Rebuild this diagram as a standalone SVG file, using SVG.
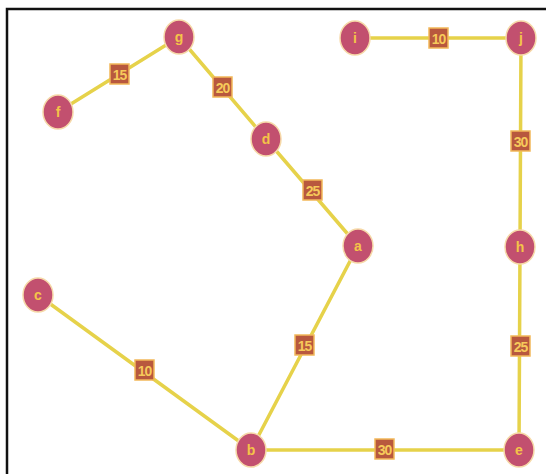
<svg xmlns="http://www.w3.org/2000/svg" width="546" height="474" viewBox="0 0 546 474">
<style>
.edge{stroke:#e6d24a;stroke-width:3.5;fill:none;stroke-linecap:round}
.node ellipse{fill:#c2506f;stroke:#f6d9a8;stroke-width:1.5}
.node text{font-family:"Liberation Sans",Arial,sans-serif;font-weight:bold;font-size:14px;fill:#f4c448;text-anchor:middle;dominant-baseline:central}
.lbl rect{fill:#b8583e;stroke:#f2b85a;stroke-width:1.5}
.lbl text{font-family:"Liberation Sans",Arial,sans-serif;font-weight:bold;font-size:14px;fill:#f6c95a;text-anchor:middle;dominant-baseline:central;letter-spacing:-1px}
</style>
<rect x="0" y="0" width="546" height="474" fill="#ffffff"/>
<path d="M7 474 V9 H546" fill="none" stroke="#111" stroke-width="2.5"/>
<g id="connectors">
<line class="edge" x1="58" y1="112" x2="179" y2="37"/>
<line class="edge" x1="179" y1="37" x2="266" y2="139"/>
<line class="edge" x1="266" y1="139" x2="358" y2="246"/>
<line class="edge" x1="358" y1="246" x2="251" y2="450"/>
<line class="edge" x1="38" y1="295" x2="251" y2="450"/>
<line class="edge" x1="251" y1="450" x2="519" y2="450"/>
<line class="edge" x1="519" y1="450" x2="520" y2="247"/>
<line class="edge" x1="520" y1="247" x2="521" y2="38"/>
<line class="edge" x1="355" y1="38" x2="521" y2="38"/>
</g>
<g id="edge-labels">
<g class="lbl" id="l-fg"><rect x="110" y="64" width="19" height="20"/><text x="119.5" y="74.5">15</text></g>
<g class="lbl" id="l-gd"><rect x="213" y="77" width="19" height="20"/><text x="222.5" y="87.5">20</text></g>
<g class="lbl" id="l-da"><rect x="303" y="180" width="19" height="20"/><text x="312.5" y="190.5">25</text></g>
<g class="lbl" id="l-ab"><rect x="295" y="335" width="19" height="20"/><text x="304.5" y="345.5">15</text></g>
<g class="lbl" id="l-cb"><rect x="135" y="360" width="19" height="20"/><text x="144.5" y="370.5">10</text></g>
<g class="lbl" id="l-be"><rect x="375" y="439" width="19" height="20"/><text x="384.5" y="449.5">30</text></g>
<g class="lbl" id="l-he"><rect x="511" y="336" width="19" height="20"/><text x="520.5" y="346.5">25</text></g>
<g class="lbl" id="l-jh"><rect x="511" y="131" width="19" height="20"/><text x="520.5" y="141.5">30</text></g>
<g class="lbl" id="l-ij"><rect x="429" y="28" width="19" height="20"/><text x="438.5" y="38.5">10</text></g>
</g>
<g class="node" id="node-g"><ellipse cx="179" cy="37" rx="15" ry="17"/><text x="179" y="37">g</text></g>
<g class="node" id="node-f"><ellipse cx="58" cy="112" rx="15" ry="17"/><text x="58" y="112">f</text></g>
<g class="node" id="node-d"><ellipse cx="266" cy="139" rx="15" ry="17"/><text x="266" y="139">d</text></g>
<g class="node" id="node-a"><ellipse cx="358" cy="246" rx="15" ry="17"/><text x="358" y="246">a</text></g>
<g class="node" id="node-c"><ellipse cx="38" cy="295" rx="15" ry="17"/><text x="38" y="295">c</text></g>
<g class="node" id="node-b"><ellipse cx="251" cy="450" rx="15" ry="17"/><text x="251" y="450">b</text></g>
<g class="node" id="node-e"><ellipse cx="519" cy="450" rx="15" ry="17"/><text x="519" y="450">e</text></g>
<g class="node" id="node-h"><ellipse cx="520" cy="247" rx="15" ry="17"/><text x="520" y="247">h</text></g>
<g class="node" id="node-j"><ellipse cx="521" cy="38" rx="15" ry="17"/><text x="521" y="38">j</text></g>
<g class="node" id="node-i"><ellipse cx="355" cy="38" rx="15" ry="17"/><text x="355" y="38">i</text></g>
</svg>
